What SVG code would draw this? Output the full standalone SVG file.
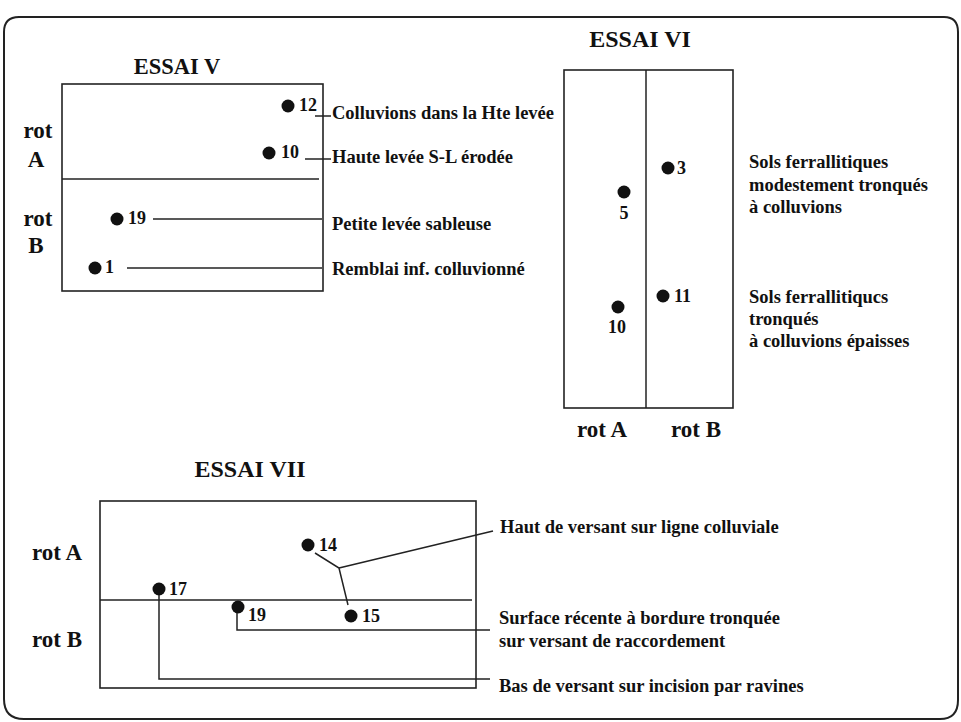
<svg xmlns="http://www.w3.org/2000/svg" width="961" height="722" viewBox="0 0 961 722">
<style>
  .t{font-family:"Liberation Serif","Times New Roman",serif;font-weight:bold;fill:#111}
  .title{font-size:24px}
  .rot{font-size:23px}
  .lbl{font-size:18.5px}
  .num{font-size:18px}
  .box{fill:none;stroke:#222;stroke-width:1.6}
  .ln{fill:none;stroke:#222;stroke-width:1.5}
  .dot{fill:#111}
</style>
<rect width="961" height="722" fill="#fff"/>
<path id="frame" d="M4,32 Q4,17 19,17 L944,17 Q958,17 958,32 L958,700 Q958,719 940,719 L24,719 Q4,719 4,699 Z" fill="none" stroke="#222" stroke-width="2"/>

<g id="essai5">
  <text class="t title" x="177" y="74" text-anchor="middle" style="font-size:22.5px">ESSAI V</text>
  <rect class="box" x="62" y="84" width="261" height="207"/>
  <line class="ln" x1="62" y1="179" x2="319" y2="179"/>
  <text class="t rot" x="38" y="138" text-anchor="middle">rot</text>
  <text class="t rot" x="36" y="167" text-anchor="middle">A</text>
  <text class="t rot" x="38" y="226" text-anchor="middle">rot</text>
  <text class="t rot" x="36" y="253" text-anchor="middle">B</text>
</g>
<g id="e5-p12"><circle class="dot" cx="288" cy="106" r="6.5"/><text class="t num" x="299" y="111">12</text></g>
<g id="e5-p10"><circle class="dot" cx="269" cy="153" r="6.5"/><text class="t num" x="281" y="158">10</text></g>
<g id="e5-p19"><circle class="dot" cx="117" cy="219" r="6.5"/><text class="t num" x="128" y="224">19</text></g>
<g id="e5-p1"><circle class="dot" cx="95" cy="268" r="6.5"/><text class="t num" x="105" y="273">1</text></g>
<g id="e5-labels">
  <text class="t lbl" x="332" y="119">Colluvions dans la Hte levée</text>
  <text class="t lbl" x="332" y="163">Haute levée S-L érodée</text>
  <text class="t lbl" x="332" y="230">Petite levée sableuse</text>
  <text class="t lbl" x="332" y="275">Remblai inf. colluvionné</text>
</g>

<g id="essai6">
  <text class="t title" x="640" y="47" text-anchor="middle">ESSAI VI</text>
  <rect class="box" x="564" y="70" width="169" height="338"/>
  <line class="ln" x1="646" y1="70" x2="646" y2="408"/>
  <text class="t rot" x="602" y="437" text-anchor="middle">rot A</text>
  <text class="t rot" x="696" y="437" text-anchor="middle">rot B</text>
</g>
<g id="e6-p3"><circle class="dot" cx="668" cy="168" r="6.5"/><text class="t num" x="677" y="174">3</text></g>
<g id="e6-p5"><circle class="dot" cx="624" cy="192" r="6.5"/><text class="t num" x="624" y="219" text-anchor="middle">5</text></g>
<g id="e6-p11"><circle class="dot" cx="663" cy="296" r="6.5"/><text class="t num" x="674" y="302">11</text></g>
<g id="e6-p10"><circle class="dot" cx="618" cy="307" r="6.5"/><text class="t num" x="617" y="333" text-anchor="middle">10</text></g>
<g id="e6-labels">
  <text class="t lbl" x="749" y="168">Sols ferrallitiques</text>
  <text class="t lbl" x="749" y="191">modestement tronqués</text>
  <text class="t lbl" x="749" y="213">à colluvions</text>
  <text class="t lbl" x="749" y="303">Sols ferrallitiqucs</text>
  <text class="t lbl" x="749" y="325">tronqués</text>
  <text class="t lbl" x="749" y="347">à colluvions épaisses</text>
</g>

<g id="essai7">
  <text class="t title" x="250" y="477" text-anchor="middle">ESSAI VII</text>
  <rect class="box" x="100" y="501" width="376" height="187"/>
  <line class="ln" x1="100" y1="600" x2="472" y2="600"/>
  <text class="t rot" x="32" y="560">rot A</text>
  <text class="t rot" x="32" y="647">rot B</text>
</g>
<g id="e7-p14"><circle class="dot" cx="308" cy="545" r="6.5"/><text class="t num" x="319" y="551">14</text></g>
<g id="e7-p17"><circle class="dot" cx="159" cy="589" r="6.5"/><text class="t num" x="169" y="595">17</text></g>
<g id="e7-p19"><circle class="dot" cx="238" cy="607" r="6.5"/><text class="t num" x="248" y="621">19</text></g>
<g id="e7-p15"><circle class="dot" cx="351" cy="616" r="6.5"/><text class="t num" x="362" y="622">15</text></g>
<g id="e7-labels">
  <text class="t lbl" x="500" y="533">Haut de versant sur ligne colluviale</text>
  <text class="t lbl" x="499" y="624">Surface récente à bordure tronquée</text>
  <text class="t lbl" x="499" y="647">sur versant de raccordement</text>
  <text class="t lbl" x="499" y="692">Bas de versant sur incision par ravines</text>
</g>

<g id="connectors">
  <line class="ln" x1="315" y1="116" x2="331" y2="116"/>
  <line class="ln" x1="305" y1="159" x2="331" y2="159"/>
  <line class="ln" x1="153" y1="219" x2="322" y2="219"/>
  <line class="ln" x1="127" y1="268" x2="322" y2="268"/>
  <polyline class="ln" points="315,553 339,568 348,605"/>
  <line class="ln" x1="339" y1="568" x2="493" y2="531"/>
  <polyline class="ln" points="237,613 237,630 490,630"/>
  <polyline class="ln" points="159,595 159,679 490,679"/>
</g>
</svg>
